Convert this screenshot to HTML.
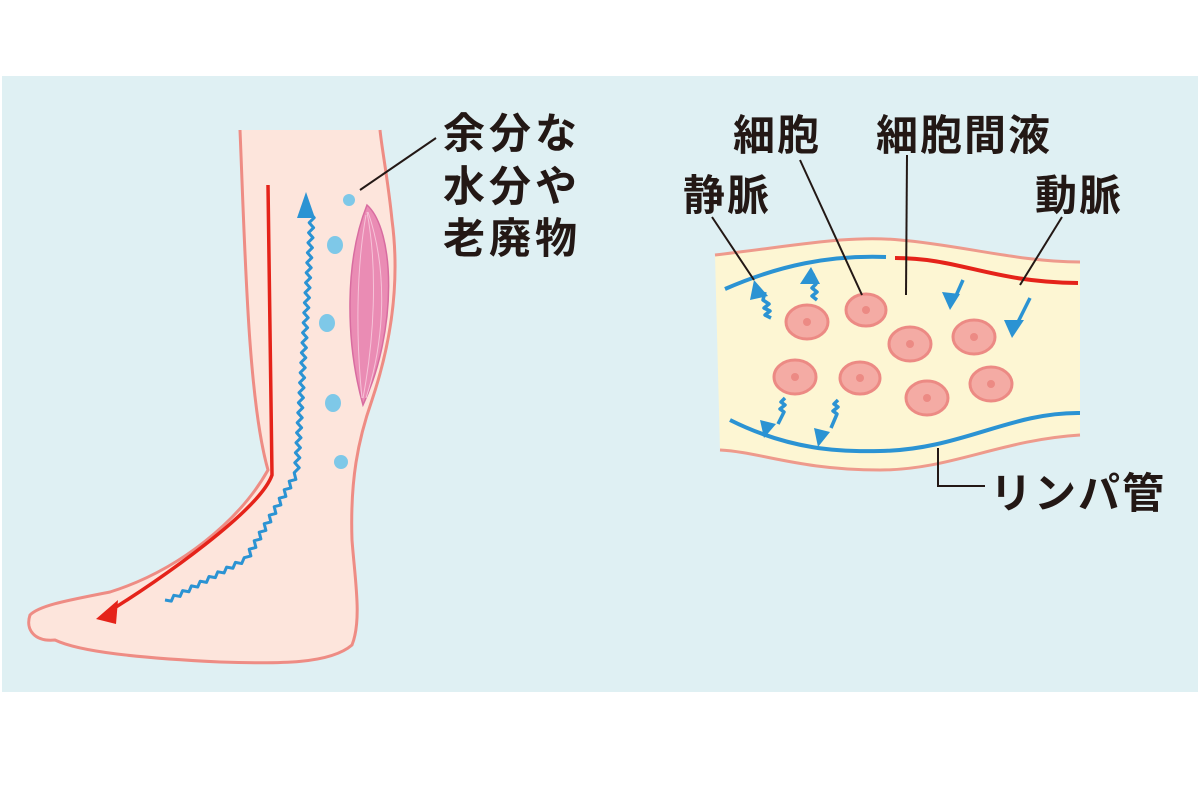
<!DOCTYPE html>
<html><head><meta charset="utf-8"><style>
body{margin:0;background:#fff;width:1200px;height:800px;overflow:hidden}
svg{display:block}
text{font-family:"Liberation Sans","Noto Sans CJK JP",sans-serif;font-weight:bold;fill:#231815}
</style></head><body>
<svg width="1200" height="800" viewBox="0 0 1200 800">
<rect x="2" y="76" width="1196" height="616" fill="#dff0f3"/>
<!-- leg -->
<path d="M240,130 C245,250 248,400 268,470 C240,520 180,570 110,592 C70,600 40,605 30,615 C25,630 35,642 55,640 C80,652 140,658 220,662 C280,664 330,664 352,645 C362,620 355,580 352,540 C350,480 358,440 372,400 C392,340 400,280 392,220 C388,180 382,150 380,130 Z" fill="#fde5dc"/>
<path d="M240,130 C245,250 248,400 268,470 C240,520 180,570 110,592 C70,600 40,605 30,615 C25,630 35,642 55,640 C80,652 140,658 220,662 C280,664 330,664 352,645 C362,620 355,580 352,540 C350,480 358,440 372,400 C392,340 400,280 392,220 C388,180 382,150 380,130" fill="none" stroke="#ee8c84" stroke-width="3"/>
<!-- muscle -->
<path d="M367,205 C395,230 398,330 363,405 C345,340 345,260 367,205 Z" fill="#ea8cb4" stroke="#d86ca0" stroke-width="1.5"/>
<path d="M367,212 C378,270 374,340 363,398 M368,212 C388,270 385,340 366,398 M366,215 C356,270 356,340 362,398" stroke="#f6c3d8" stroke-width="1" fill="none"/>
<!-- red arrow -->
<path d="M268,185 L272,475 C260,510 160,580 108,612" stroke="#e5231a" stroke-width="3.5" fill="none"/>
<polygon points="96,619 118,600 116,624" fill="#e5231a"/>
<!-- blue zigzag -->
<path d="M165,600
l6.3,1.15 l2.5,-5.85 l6.3,1.15 l2.5,-5.85 l6.3,1.15 l2.5,-5.85 l6.3,1.15 l2.5,-5.85 l6.3,1.15 l2.5,-5.85 l6.3,1.15 l2.5,-5.85 l6.3,1.15 l2.5,-5.85 l6.3,1.15 l2.5,-5.85 l6.3,1.15 l2.5,-5.85
l6.7,-1.75 l-1.7,-6.75 l6.7,-1.75 l-1.7,-6.75 l6.7,-1.75 l-1.7,-6.75 l6.7,-1.75 l-1.7,-6.75 l6.7,-1.75 l-1.7,-6.75 l6.7,-1.75 l-1.7,-6.75 l6.7,-1.75 l-1.7,-6.75 l6.7,-1.75 l-1.7,-6.75 l6.7,-1.75 l-1.7,-6.75 l6.7,-1.75 l-1.7,-6.75
l5,-5 l-4.4,-5 l5,-5 l-4.4,-5 l5,-5 l-4.4,-5 l5,-5 l-4.4,-5 l5,-5 l-4.4,-5 l5,-5 l-4.4,-5 l5,-5 l-4.4,-5 l5,-5 l-4.4,-5 l5,-5 l-4.4,-5 l5,-5 l-4.4,-5
l5,-5 l-4.4,-5 l5,-5 l-4.4,-5 l5,-5 l-4.4,-5 l5,-5 l-4.4,-5 l5,-5 l-4.4,-5 l5,-5 l-4.4,-5 l5,-5 l-4.4,-5 l5,-5 l-4.4,-5 l5,-5 l-4.4,-5 l5,-5 l-4.4,-5
l5,-5 l-4.4,-5 l5,-5 l-4.4,-5 l5,-5 l-4.4,-5 l5,-5 l-4.4,-5 l5,-5 l-4.4,-5 l5,-5 l-4.4,-5"
 stroke="#2b93d3" stroke-width="3" fill="none" stroke-linejoin="round"/>
<polygon points="306,192 297,218 315,218" fill="#2b93d3"/>
<!-- dots -->
<g fill="#7ec8e8"><ellipse cx="349" cy="200" rx="6" ry="6"/><ellipse cx="335" cy="245" rx="8" ry="9"/><ellipse cx="327" cy="323" rx="8" ry="9"/><ellipse cx="333" cy="403" rx="8" ry="9"/><ellipse cx="341" cy="462" rx="7" ry="7"/></g>
<line x1="360" y1="190" x2="436" y2="138" stroke="#231815" stroke-width="2"/>
<text x="443" y="148" font-size="42" letter-spacing="4">余分な</text>
<text x="443" y="201" font-size="42" letter-spacing="4">水分や</text>
<text x="443" y="253" font-size="42" letter-spacing="4">老廃物</text>
<!-- tissue -->
<path d="M715,255 C800,245 850,235 900,240 C960,245 1020,262 1080,262 L1080,435 C1000,440 950,470 880,470 C800,470 760,452 720,450 Z" fill="#fdf6d3"/>
<path d="M715,255 C800,245 850,235 900,240 C960,245 1020,262 1080,262" stroke="#ee9a8c" stroke-width="3" fill="none"/>
<path d="M720,450 C760,452 800,470 880,470 C950,470 1000,440 1080,435" stroke="#ee9a8c" stroke-width="3" fill="none"/>
<path d="M725,289 C780,265 830,255 886,257" stroke="#2b93d3" stroke-width="4" fill="none"/>
<path d="M895,258 C960,258 990,282 1078,283" stroke="#e5231a" stroke-width="4" fill="none"/>
<path d="M730,420 C790,450 840,452 880,451 C960,450 1010,412 1080,413" stroke="#2b93d3" stroke-width="4" fill="none"/>
<g fill="#f4aba4" stroke="#ec8a84" stroke-width="3">
<ellipse cx="807" cy="322" rx="21" ry="17"/><ellipse cx="866" cy="310" rx="20" ry="16"/><ellipse cx="910" cy="344" rx="21" ry="17"/><ellipse cx="974" cy="337" rx="21" ry="17"/><ellipse cx="795" cy="377" rx="21" ry="17"/><ellipse cx="860" cy="378" rx="20" ry="16"/><ellipse cx="927" cy="398" rx="21" ry="17"/><ellipse cx="991" cy="384" rx="21" ry="17"/></g>
<g fill="#ec8a84"><circle cx="807" cy="322" r="4"/><circle cx="866" cy="310" r="4"/><circle cx="910" cy="344" r="4"/><circle cx="974" cy="337" r="4"/><circle cx="795" cy="377" r="4"/><circle cx="860" cy="378" r="4"/><circle cx="927" cy="398" r="4"/><circle cx="991" cy="384" r="4"/></g>
<!-- small arrows -->
<g stroke="#2b93d3" stroke-width="3.5" fill="none" stroke-linejoin="round">
<path d="M771,318 l-6,-3 l5,-4 l-6,-3 l5,-4 l-6,-4 l2,-8"/>
<path d="M817,300 l-5,-4 l5,-4 l-5,-4 l4,-4 l-3,-10"/>
<path d="M963,280 l-8,18"/><path d="M1030,298 l-12,24"/>
<path d="M785,398 l-4,4 l4,3 l-5,4 l4,3 l-6,12"/>
<path d="M838,400 l-4,4 l4,3 l-5,4 l4,3 l-6,14"/>
</g>
<g fill="#2b93d3">
<polygon points="754,280 750,300 768,296"/><polygon points="811,267 800,284 820,284"/>
<polygon points="942,292 950,310 960,294"/><polygon points="1004,320 1012,338 1024,320"/>
<polygon points="764,438 776,424 760,420"/><polygon points="818,447 830,432 814,428"/>
</g>
<!-- leaders -->
<g stroke="#231815" stroke-width="2" fill="none">
<line x1="712" y1="217" x2="754" y2="280"/>
<line x1="800" y1="160" x2="862" y2="295"/>
<line x1="907" y1="155" x2="906" y2="295"/>
<line x1="1062" y1="217" x2="1020" y2="285"/>
<polyline points="938,448 938,486 985,486"/>
</g>
<text x="733" y="150" font-size="42" letter-spacing="2">細胞</text>
<text x="876" y="150" font-size="42" letter-spacing="2">細胞間液</text>
<text x="683" y="210" font-size="42" letter-spacing="2">静脈</text>
<text x="1035" y="210" font-size="42" letter-spacing="2">動脈</text>
<text x="990" y="508" font-size="42" letter-spacing="2">リンパ管</text>
</svg>
</body></html>
